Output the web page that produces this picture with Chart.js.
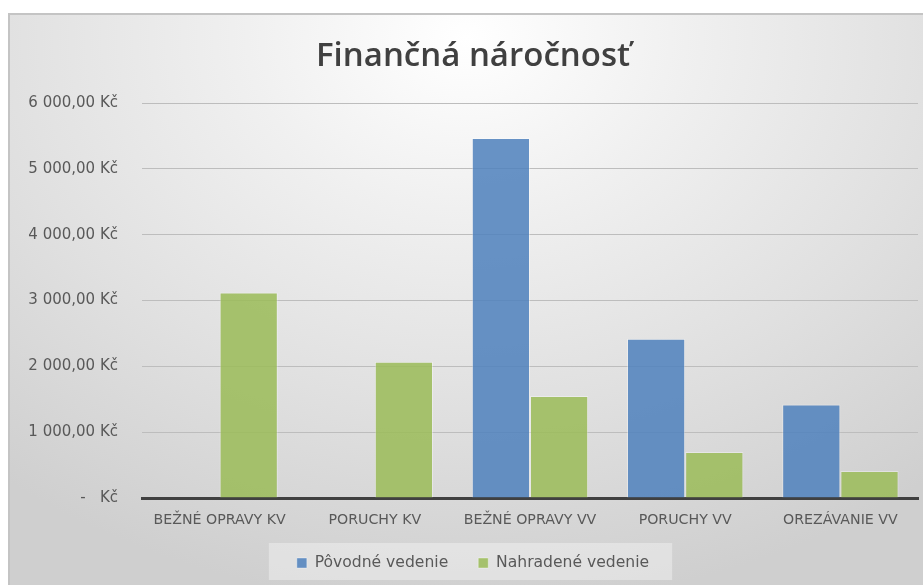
<!DOCTYPE html>
<html>
<head>
<meta charset="utf-8">
<script src="https://cdn.jsdelivr.net/npm/chart.js@4/dist/chart.umd.min.js"></script>
<style>
  html, body { margin: 0; padding: 0; background: #ffffff; }
  #frame {
    position: absolute; left: 8px; top: 13px; width: 915px; height: 572px;
    box-sizing: border-box;
    border-top: 2px solid #c4c4c4; border-left: 2px solid #c4c4c4;
    background: radial-gradient(ellipse 80% 100% at 50% 4%, #ffffff 0%, #f0f0f0 30%, #e0e0e0 65%, #cfcfcf 100%);
  }
  #wrap { position: absolute; left: 0; top: 0; width: 923px; height: 585px; }
</style>
</head>
<body>
<div id="frame"></div>
<div id="wrap"><canvas id="c" width="923" height="585"></canvas></div>
<script>
const categories = ['BEŽNÉ OPRAVY KV', 'PORUCHY KV', 'BEŽNÉ OPRAVY VV', 'PORUCHY VV', 'OREZÁVANIE VV'];
const povodneVedenie = [0, 0, 5470, 2420, 1420];
const nahradeneVedenie = [3120, 2070, 1550, 700, 410];
const seriesNames = ['Pôvodné vedenie', 'Nahradené vedenie'];
const chartTitle = 'Finančná náročnosť';
const yTicks = [0, 1000, 2000, 3000, 4000, 5000, 6000];

function formatKc(v) {
  if (v === 0) return '-   Kč';
  const parts = v.toFixed(2).split('.');
  const intPart = parts[0].replace(/\B(?=(\d{3})+(?!\d))/g, ' ');
  return intPart + ',' + parts[1] + ' Kč';
}

const legendBg = {
  id: 'legendBg',
  beforeDraw(chart) {
    const lg = chart.legend;
    if (!lg || !lg.legendHitBoxes || !lg.legendHitBoxes.length) return;
    const hb = lg.legendHitBoxes;
    const first = hb[0], last = hb[hb.length - 1];
    const cy = first.top + first.height / 2;
    const ctx = chart.ctx;
    ctx.save();
    ctx.fillStyle = 'rgba(255,255,255,0.35)';
    ctx.fillRect(first.left - 28, cy - 20, (last.left + last.width + 23) - (first.left - 28), 37);
    ctx.restore();
  }
};

new Chart(document.getElementById('c'), {
  type: 'bar',
  data: {
    labels: categories,
    datasets: [
      { label: seriesNames[0], data: povodneVedenie, backgroundColor: 'rgba(79,129,189,0.86)', borderColor: 'rgba(255,255,255,0.35)', borderWidth: 1 },
      { label: seriesNames[1], data: nahradeneVedenie, backgroundColor: 'rgba(155,187,89,0.86)', borderColor: 'rgba(255,255,255,0.35)', borderWidth: 1 }
    ]
  },
  options: {
    responsive: false,
    animation: false,
    devicePixelRatio: 1,
    layout: { padding: { left: 28, right: 5, top: 13, bottom: 4.2 } },
    datasets: { bar: { categoryPercentage: 0.75, barPercentage: 1.0 } },
    plugins: {
      title: {
        display: true,
        text: chartTitle,
        color: '#404040',
        font: { family: "'Open Sans'", size: 33, weight: '600', lineHeight: 1.2 },
        padding: { top: 24, bottom: 26.4 }
      },
      legend: {
        display: true,
        position: 'bottom',
        labels: {
          boxWidth: 10,
          boxHeight: 10,
          padding: 30,
          color: '#595959',
          font: { family: "'DejaVu Sans'", size: 15.6 }
        }
      },
      tooltip: { enabled: false }
    },
    scales: {
      x: {
        grid: { display: false, drawTicks: false },
        border: { display: true, color: '#404040', width: 3 },
        ticks: {
          color: '#595959',
          font: { family: "'DejaVu Sans'", size: 14.2 },
          padding: 14,
          maxRotation: 0,
          autoSkip: false
        },
        afterFit(scale) { scale.height = 27.2; }
      },
      y: {
        min: 0,
        max: 6000,
        afterBuildTicks(scale) { scale.ticks = yTicks.map(v => ({ value: v })); },
        grid: { color: '#bdbdbd', lineWidth: 1, drawTicks: false },
        border: { display: false },
        ticks: {
          color: '#595959',
          font: { family: "'DejaVu Sans'", size: 15 },
          padding: 24,
          callback: (v) => formatKc(v)
        },
        afterFit(scale) { scale.width = 114; }
      }
    }
  },
  plugins: [legendBg]
});
</script>
</body>
</html>
